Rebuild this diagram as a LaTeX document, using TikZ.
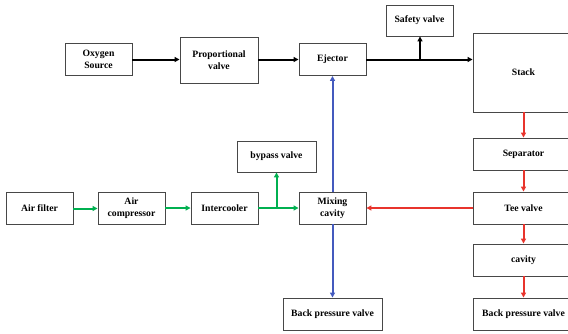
\documentclass[tikz,border=0pt]{standalone}
\usepackage{fontspec}
\setmainfont{Liberation Serif}
\usetikzlibrary{arrows.meta}
\definecolor{airgreen}{RGB}{0,176,80}
\definecolor{h2red}{RGB}{232,52,44}
\definecolor{mixblue}{RGB}{68,90,190}
\begin{document}
\begin{tikzpicture}[x=1pt,y=-1pt,
  box/.style={draw=black!72, line width=0.9pt, fill=white, align=center,
    font=\fontsize{9.7}{12.5}\selectfont\bfseries, inner sep=0pt,
    minimum width=67pt, minimum height=32pt},
  flow/.style={line width=2pt, -{Triangle[length=5pt,width=5pt]}},
  o2/.style={flow, black},
  air/.style={flow, airgreen},
  h2/.style={flow, h2red},
  mixl/.style={flow, mixblue}]
\clip (0,0) rectangle (568,333);

% oxygen line
\node[box] (oxy) at (98.5,59.5) {Oxygen\\Source};
\node[box, minimum width=78pt, minimum height=46pt] (prop) at (219,60) {Proportional\\valve};
\node[box] (ej) at (332.5,59.5) {Ejector};
\node[box, minimum height=31pt] (safe) at (419.5,20.5) {Safety valve};
\node[box, minimum width=101pt, minimum height=79pt] (stack) at (523.5,72.5) {Stack};

% hydrogen recirculation column
\node[box, minimum width=101pt] (sep) at (523.5,154) {Separator};
\node[box, minimum width=101pt] (tee) at (523.5,208) {Tee valve};
\node[box, minimum width=101pt] (cav) at (523.5,260) {cavity};
\node[box, minimum width=101pt] (bpvr) at (523.5,314) {Back pressure valve};

% air line
\node[box] (filt) at (39.5,208.5) {Air filter};
\node[box] (comp) at (131.5,208) {Air\\compressor};
\node[box] (inter) at (224.5,208) {Intercooler};
\node[box, minimum width=79pt, minimum height=31pt] (bypass) at (276.5,156.5) {bypass valve};
\node[box] (mix) at (332.5,208) {Mixing\\cavity};
\node[box, minimum width=99pt] (bpvm) at (332.5,314) {Back pressure valve};

% oxygen connections
\draw[o2] (oxy.east) -- (prop.west |- oxy.east);
\draw[o2] (prop.east |- ej.west) -- (ej.west);
\draw[o2] (ej.east) -- (ej.east -| stack.west);
\coordinate (sj) at (420,59.5);
\draw[o2] (sj) -- (sj |- safe.south);

% hydrogen connections
\draw[h2] (stack.south) -- (sep.north);
\draw[h2] (sep.south) -- (tee.north);
\draw[h2] (tee.south) -- (cav.north);
\draw[h2] (cav.south) -- (bpvr.north);
\draw[h2] (tee.west) -- (mix.east);

% air connections
\draw[air] (filt.east) -- (comp.west |- filt.east);
\draw[air] (comp.east) -- (inter.west);
\draw[air] (inter.east) -- (mix.west);
\coordinate (bj) at (276.5,208);
\draw[air] (bj) -- (bypass.south);

% mixed flow
\draw[mixl] (mix.north) -- (ej.south);
\draw[mixl] (mix.south) -- (bpvm.north);
\end{tikzpicture}
\end{document}
